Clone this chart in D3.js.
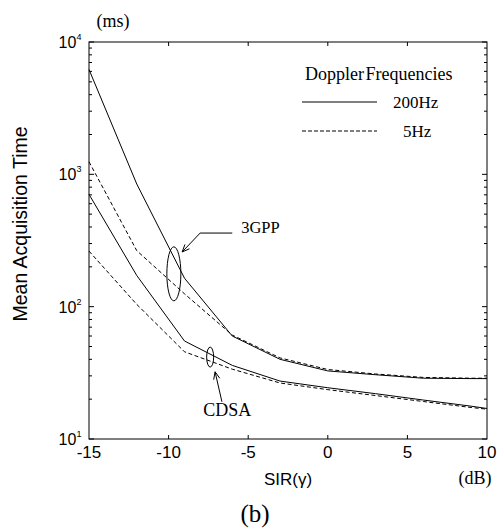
<!DOCTYPE html>
<html><head><meta charset="utf-8">
<script src="https://cdn.jsdelivr.net/npm/d3@7"></script>
<style>body{margin:0;background:#fff}svg{display:block}</style>
</head><body>
<svg id="c" width="503" height="530"></svg>
<script>
const sir = [-15, -12, -9, -6, -3, 0, 3, 6, 9, 10];
const gpp200 = [6200, 845, 164, 60, 40, 32.7, 30.6, 28.8, 28.6, 28.6];
const gpp5 = [1245, 265, 125, 61, 41, 33.5, 31.0, 29.2, 28.8, 28.8];
const cdsa200 = [706, 172, 55, 36, 27.4, 24.4, 22.0, 19.7, 17.7, 17.0];
const cdsa5 = [263, 104, 45.6, 33.7, 26.5, 23.6, 21.3, 19.2, 17.3, 16.8];
const xTicks = [-15, -10, -5, 0, 5, 10];
const yTicks = [10, 100, 1000, 10000];
const yExp = ["1", "2", "3", "4"];
const legendLabels = ["200Hz", "5Hz"];

const svg = d3.select("#c");
const x = d3.scaleLinear().domain([-15, 10]).range([89, 487]);
const y = d3.scaleLog().domain([10, 10000]).range([439, 42]);
const sans = "Liberation Sans, Arial, sans-serif";
const serif = "Liberation Serif, Times New Roman, serif";

// frame
svg.append("rect").attr("x", x(-15)).attr("y", y(10000))
  .attr("width", x(10) - x(-15)).attr("height", y(10) - y(10000))
  .attr("fill", "none").attr("stroke", "#000").attr("stroke-width", 1);

// x ticks (inward, bottom & top)
xTicks.slice(1, -1).forEach(t => {
  svg.append("line").attr("x1", x(t)).attr("x2", x(t)).attr("y1", y(10)).attr("y2", y(10) - 4).attr("stroke", "#000");
  svg.append("line").attr("x1", x(t)).attr("x2", x(t)).attr("y1", y(10000)).attr("y2", y(10000) + 4).attr("stroke", "#000");
});
// y minor ticks
for (let d = 10; d < 10000; d *= 10) {
  for (let m = 2; m <= 9; m++) {
    const v = d * m;
    svg.append("line").attr("x1", x(-15)).attr("x2", x(-15) + 3).attr("y1", y(v)).attr("y2", y(v)).attr("stroke", "#000");
    svg.append("line").attr("x1", x(10)).attr("x2", x(10) - 3).attr("y1", y(v)).attr("y2", y(v)).attr("stroke", "#000");
  }
}
yTicks.forEach(t => {
  svg.append("line").attr("x1", x(-15)).attr("x2", x(-15) + 5).attr("y1", y(t)).attr("y2", y(t)).attr("stroke", "#000");
  svg.append("line").attr("x1", x(10)).attr("x2", x(10) - 5).attr("y1", y(t)).attr("y2", y(t)).attr("stroke", "#000");
});

// x tick labels
svg.selectAll(".xl").data(xTicks).enter().append("text")
  .attr("x", d => x(d)).attr("y", 458).attr("text-anchor", "middle")
  .attr("font-family", sans).attr("font-size", 17).text(d => d);

// y tick labels
yTicks.forEach((t, i) => {
  const g = svg.append("text").attr("x", x(-15) - 19).attr("y", y(t) + 6)
    .attr("text-anchor", "middle").attr("font-family", sans).attr("font-size", 16);
  g.append("tspan").text("10");
  g.append("tspan").attr("font-size", 9).attr("dy", -8).text(yExp[i]);
});

// axis titles
svg.append("text").attr("transform", "translate(27,224) rotate(-90)")
  .attr("text-anchor", "middle").attr("font-family", sans).attr("font-size", 19.5)
  .text("Mean Acquisition Time");
svg.append("text").attr("x", 288).attr("y", 485).attr("text-anchor", "middle")
  .attr("font-family", sans).attr("font-size", 17).text("SIR(γ)");
svg.append("text").attr("x", 475).attr("y", 484).attr("text-anchor", "middle")
  .attr("font-family", serif).attr("font-size", 18).text("(dB)");
svg.append("text").attr("x", 113).attr("y", 27).attr("text-anchor", "middle")
  .attr("font-family", serif).attr("font-size", 18).text("(ms)");
svg.append("text").attr("x", 255).attr("y", 522).attr("text-anchor", "middle")
  .attr("font-family", serif).attr("font-size", 25).text("(b)");

// series
const line = d3.line().x(d => x(d[0])).y(d => y(d[1]));
const series = [
  {v: gpp200, dash: null},
  {v: gpp5, dash: "4,2.5"},
  {v: cdsa200, dash: null},
  {v: cdsa5, dash: "4,2.5"}
];
series.forEach(s => {
  svg.append("path").datum(sir.map((xx, i) => [xx, s.v[i]]))
    .attr("d", line).attr("fill", "none").attr("stroke", "#000").attr("stroke-width", 1)
    .attr("stroke-dasharray", s.dash);
});

// legend
svg.append("text").attr("x", 305).attr("y", 80).attr("font-family", serif)
  .attr("font-size", 18).attr("word-spacing", -3).text("Doppler Frequencies");
[[102, null, 393], [131, "4,2", 403]].forEach((l, i) => {
  svg.append("line").attr("x1", 302).attr("x2", 377).attr("y1", l[0]).attr("y2", l[0])
    .attr("stroke", "#000").attr("stroke-dasharray", l[1]);
  svg.append("text").attr("x", l[2]).attr("y", l[0] + 6).attr("font-family", serif)
    .attr("font-size", 17).text(legendLabels[i]);
});

// annotations
function arrow(x0, y0, x1, y1) {
  const ang = Math.atan2(y1 - y0, x1 - x0), L = 8, w = 0.4;
  const p = [[x1 - L * Math.cos(ang - w), y1 - L * Math.sin(ang - w)], [x1, y1],
             [x1 - L * Math.cos(ang + w), y1 - L * Math.sin(ang + w)]];
  svg.append("path").attr("d", "M" + p.map(q => q.join(",")).join("L"))
    .attr("fill", "none").attr("stroke", "#000");
}
// 3GPP
svg.append("ellipse").attr("cx", x(-9.67)).attr("cy", y(177)).attr("rx", 7).attr("ry", 27)
  .attr("fill", "none").attr("stroke", "#000");
svg.append("path").attr("d", `M${x(-6)},${y(360)}L${x(-8.02)},${y(360)}L${x(-9.15)},${y(259)}`)
  .attr("fill", "none").attr("stroke", "#000");
arrow(x(-8.02), y(360), x(-9.15), y(259));
svg.append("text").attr("x", x(-5.44)).attr("y", y(360)).attr("font-family", serif)
  .attr("font-size", 16.5).text("3GPP");
// CDSA
svg.append("ellipse").attr("cx", x(-7.39)).attr("cy", y(41.6)).attr("rx", 3.5).attr("ry", 10)
  .attr("fill", "none").attr("stroke", "#000");
svg.append("line").attr("x1", x(-6.65)).attr("y1", y(19.1)).attr("x2", x(-7.08)).attr("y2", y(32.2))
  .attr("stroke", "#000");
arrow(x(-6.65), y(19.1), x(-7.08), y(32.2));
svg.append("text").attr("x", x(-7.83)).attr("y", y(14.9)).attr("font-family", serif)
  .attr("font-size", 18).text("CDSA");
</script>
</body></html>
